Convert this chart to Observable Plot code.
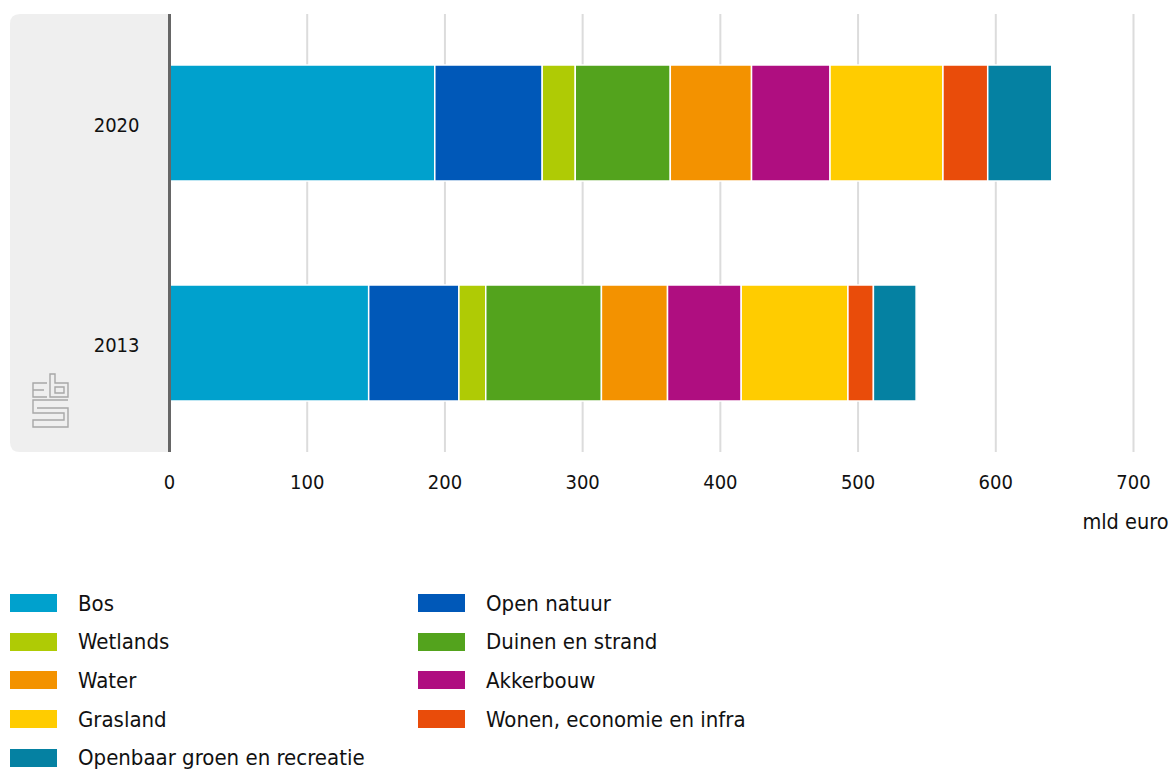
<!DOCTYPE html>
<html><head><meta charset="utf-8">
<script src="https://cdn.jsdelivr.net/npm/d3@7"></script>
<script src="https://cdn.jsdelivr.net/npm/@observablehq/plot@0.6"></script>
<style>
body{margin:0;background:#fff;font-family:"DejaVu Sans Condensed","Liberation Sans Narrow","DejaVu Sans",sans-serif;font-stretch:condensed;color:#111;}
#chart svg{display:block;}
#legend{display:grid;grid-template-columns:408px 400px;grid-auto-rows:38.6px;padding-left:10px;padding-top:34px;font-size:22px;}
.item{display:flex;align-items:center;}
.sw{width:47px;height:18px;margin-right:21px;flex:none;}
</style></head><body><div id="chart"></div><div id="legend"></div>
<script>
const categories = ["Bos","Open natuur","Wetlands","Duinen en strand","Water","Akkerbouw","Grasland","Wonen, economie en infra","Openbaar groen en recreatie"];
const colors = ["#00a1cd","#0058b8","#afcb05","#53a31d","#f39200","#af0e80","#ffcc00","#e94c0a","#0581a2"];
const years = ["2020","2013"];
const values2020 = [193, 78, 24, 69, 59, 57, 82, 32.5, 46.5];
const values2013 = [145, 65.5, 19.5, 84, 48, 53.5, 77.5, 18.5, 31];
const xTicks = [0,100,200,300,400,500,600,700];
const axisLabel = "mld euro";

const rows = [];
years.forEach((yr, j) => {
  const vals = j === 0 ? values2020 : values2013;
  categories.forEach((c, i) => rows.push({year: yr, cat: c, value: vals[i]}));
});

const FONT = '"DejaVu Sans Condensed","Liberation Sans Narrow","DejaVu Sans",sans-serif';
const W = 1172, H = 550;
const chart = Plot.plot({
  width: W, height: H,
  marginLeft: 169, marginRight: 39, marginTop: 14, marginBottom: 98,
  style: {fontFamily: FONT, fontSize: "20px", color: "#111", background: "transparent", fontStretch: "condensed"},
  x: {domain: [0, 700], ticks: xTicks, tickSize: 0, tickPadding: 22, label: null},
  y: {domain: years, paddingInner: 0.474, paddingOuter: 0.23, label: null, axis: null},
  color: {domain: categories, range: colors},
  marks: [
    Plot.ruleX(xTicks.slice(1), {stroke: "#dcdcdc", strokeWidth: 2}),
    Plot.barX(rows, Plot.stackX({x: "value", y: "year", fill: "cat", z: "cat", order: categories, stroke: "white", strokeWidth: 1.5})),
    Plot.ruleX([0], {stroke: "#666", strokeWidth: 3}),
    Plot.axisY({tickSize: 0, tickPadding: 30, dy: 2.5, label: null}),
    Plot.text([axisLabel], {text: d => d, frameAnchor: "bottom-right", textAnchor: "end", lineAnchor: "middle", dx: 35, dy: 70, fontSize: 21.5, fill: "#111"})
  ]
});
document.getElementById("chart").appendChild(chart);

// grey panel behind the year labels
const svg = d3.select(chart);
const bg = svg.insert("g", ":first-child");
bg.append("path")
  .attr("d", "M168,14 H20 Q10,14 10,24 V442 Q10,452 20,452 H168 Z")
  .attr("fill", "#efefef");
// cbs logo (decorative)
const logo = bg.append("g").attr("fill", "none").attr("stroke", "#a8a8a8").attr("stroke-width", 1.4);
logo.append("path").attr("d", "M47,383 H33 V397 H47 M33,390 H44");
logo.append("path").attr("d", "M50,374 V397 H68 V383 H55 V374 Z M55,387 H64 V393 H55 Z");
logo.append("path").attr("d", "M68,400 H33 V413 H64 V420 H33 V427 H68 V408 H37");

// legend
const leg = d3.select("#legend");
categories.forEach((c, i) => {
  const it = leg.append("div").attr("class", "item");
  it.append("div").attr("class", "sw").style("background", colors[i]);
  it.append("span").text(c);
});
</script></body></html>
